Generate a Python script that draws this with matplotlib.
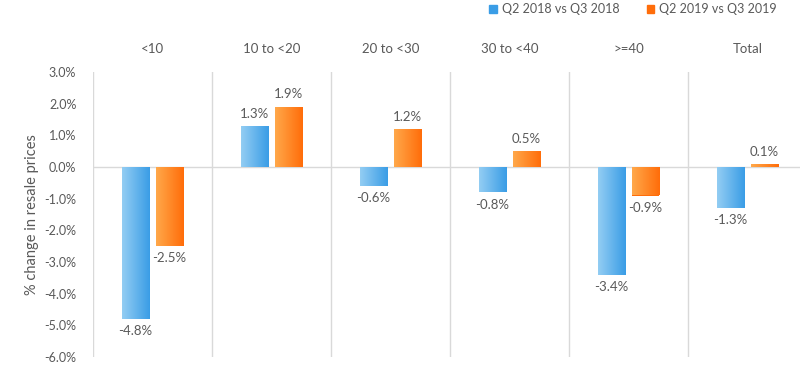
import matplotlib
matplotlib.use("Agg")
import matplotlib.pyplot as plt
import numpy as np
from matplotlib.colors import LinearSegmentedColormap
from matplotlib.patches import Patch

categories = ["<10", "10 to <20", "20 to <30", "30 to <40", ">=40", "Total"]
series_names = ["Q2 2018 vs Q3 2018", "Q2 2019 vs Q3 2019"]
q3_2018 = [-4.8, 1.3, -0.6, -0.8, -3.4, -1.3]
q3_2019 = [-2.5, 1.9, 1.2, 0.5, -0.9, 0.1]
yticks = [3, 2, 1, 0, -1, -2, -3, -4, -5, -6]

GREY = "#595959"
LINE = "#d9d9d9"
BLUE_L, BLUE_D = "#93cdf3", "#3a9de6"
ORNG_L, ORNG_D = "#ffa84a", "#ff6d0a"

plt.rcParams["font.family"] = ["Lato", "DejaVu Sans"]

fig = plt.figure(figsize=(8, 3.88), dpi=100)
ax = fig.add_axes([93 / 800, 31 / 388, 714 / 800, 285 / 388])

x = np.arange(len(categories))
bw = 0.227
off = 0.143


def gradient_bars(xs, vals, c1, c2, label):
    bars = ax.bar(xs, vals, width=bw, color=c2, label=label, zorder=3)
    cmap = LinearSegmentedColormap.from_list("g", [c1, c2])
    grad = np.linspace(0, 1, 64).reshape(1, -1)
    for b in bars:
        x0, w = b.get_x(), b.get_width()
        y0, h = b.get_y(), b.get_height()
        im = ax.imshow(grad, cmap=cmap, aspect="auto", zorder=3.5,
                       extent=(x0, x0 + w, min(y0, y0 + h), max(y0, y0 + h)))
        im.set_clip_path(b)
    return bars


gradient_bars(x - off, q3_2018, BLUE_L, BLUE_D, series_names[0])
gradient_bars(x + off, q3_2019, ORNG_L, ORNG_D, series_names[1])

for xs, vals in ((x - off, q3_2018), (x + off, q3_2019)):
    for xi, v in zip(xs, vals):
        if v >= 0:
            ax.text(xi, v + 0.2, f"{v:.1f}%", ha="center", va="bottom",
                    fontsize=9.5, color=GREY)
        else:
            ax.text(xi, v - 0.2, f"{v:.1f}%", ha="center", va="top",
                    fontsize=9.5, color=GREY)

ax.set_xlim(-0.5, len(categories) - 0.5)
ax.set_ylim(-6, 3)
ax.axhline(0, color=LINE, lw=1, zorder=2)
for i in range(len(categories) + 1):
    ax.axvline(i - 0.5, color=LINE, lw=1, zorder=1)

for s in ax.spines.values():
    s.set_visible(False)
ax.set_yticks(yticks)
ax.set_yticklabels([f"{t:.1f}%" for t in yticks], fontsize=9, color=GREY)
ax.tick_params(axis="y", length=0, pad=12)
ax.set_xticks(x)
ax.set_xticklabels(categories, fontsize=9.5, color=GREY)
ax.xaxis.tick_top()
ax.tick_params(axis="x", length=0, pad=12)
ax.set_ylabel("% change in resale prices", fontsize=10.5, color=GREY, labelpad=4)

handles = [Patch(color=BLUE_D), Patch(color=ORNG_D)]
fig.legend(handles, series_names, loc="upper right", bbox_to_anchor=(0.985, 1.02),
           ncol=2, frameon=False, fontsize=9, labelcolor=GREY,
           handlelength=0.6, handleheight=0.6, handletextpad=0.4, columnspacing=2.2)

fig.savefig("out.png", facecolor="white")
